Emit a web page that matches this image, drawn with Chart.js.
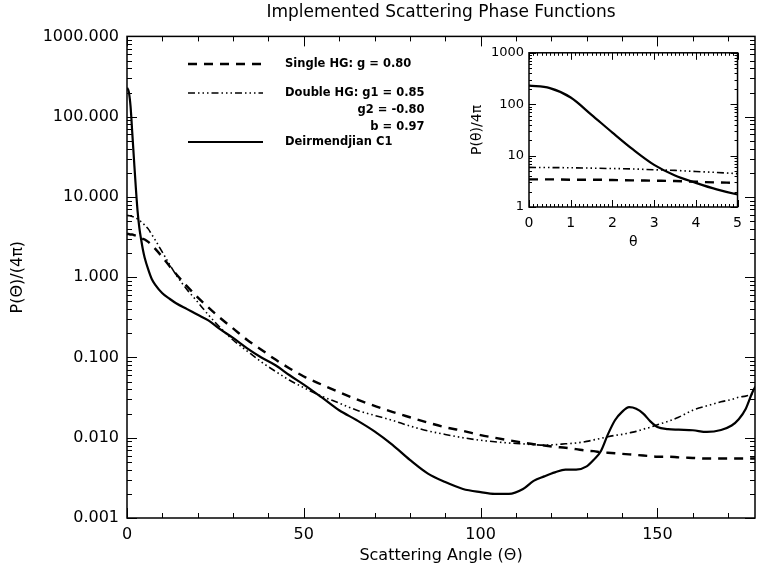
<!DOCTYPE html>
<html>
<head>
<meta charset="utf-8">
<script src="https://cdn.jsdelivr.net/npm/chart.js@4"></script>
<style>
  html, body { margin: 0; padding: 0; background: #fff; }
  #wrap { position: relative; width: 759px; height: 576px; }
  #main { position: absolute; left: 0; top: 0; }
  #inset { position: absolute; left: 460px; top: 40px; }
</style>
</head>
<body>
<div id="wrap">
  <canvas id="main" width="759" height="576"></canvas>
  <canvas id="inset" width="290" height="225"></canvas>
</div>
<script>
// scattering angle (deg) and P/(4pi)
const angles = [0, 0.5, 1, 1.5, 2, 2.5, 3, 3.5, 4, 4.5, 5, 6, 7, 8, 10, 12, 14, 17, 20, 23, 26, 30, 34, 38, 42, 46, 50,
  55, 60, 65, 70, 75, 80, 85, 90, 95, 100, 104, 108, 112, 115, 118, 121, 124, 127, 130, 132, 134, 136, 138, 140,
  142, 144, 146, 148, 150, 153, 156, 160, 164, 168, 171, 173, 175, 177, 178];

const singleHG = [3.45, 3.45, 3.4, 3.4, 3.35, 3.3, 3.25, 3.2, 3.1, 3.0, 2.95, 2.75, 2.5, 2.25, 1.78, 1.38, 1.08, 0.77,
  0.56, 0.42, 0.32, 0.23, 0.165, 0.125, 0.094, 0.073, 0.058, 0.046, 0.037, 0.030, 0.025, 0.021, 0.018, 0.0155, 0.0135,
  0.0122, 0.0108, 0.0100, 0.0093, 0.0087, 0.0083, 0.0080, 0.0077, 0.0075, 0.0072, 0.0069, 0.0068, 0.0066, 0.0065,
  0.0064, 0.0063, 0.0062, 0.0061, 0.0060, 0.0059, 0.0058, 0.0058, 0.0057, 0.0056, 0.0055, 0.0055, 0.0055, 0.0055,
  0.0055, 0.0055, 0.0055];

const doubleHG = [5.9, 5.85, 5.8, 5.7, 5.6, 5.5, 5.3, 5.15, 4.9, 4.7, 4.45, 4.0, 3.4, 2.9, 2.05, 1.45, 1.05, 0.70,
  0.49, 0.34, 0.245, 0.165, 0.12, 0.088, 0.067, 0.052, 0.042, 0.033, 0.027, 0.022, 0.019, 0.0165, 0.014, 0.0122, 0.011,
  0.0100, 0.0093, 0.0089, 0.0086, 0.0084, 0.0082, 0.0081, 0.0082, 0.0084, 0.0086, 0.0090, 0.0094, 0.0098, 0.0103,
  0.0107, 0.011, 0.0115, 0.012, 0.0128, 0.0135, 0.0145, 0.016, 0.018, 0.022, 0.025, 0.028, 0.030, 0.032, 0.033,
  0.035, 0.036];

const deirC1 = [230, 205, 135, 62, 28, 13, 6.6, 4.1, 2.95, 2.2, 1.75, 1.25, 0.95, 0.8, 0.63, 0.54, 0.47, 0.40, 0.34,
  0.29, 0.23, 0.175, 0.13, 0.10, 0.08, 0.06, 0.046, 0.032, 0.022, 0.0165, 0.012, 0.0082, 0.0053, 0.0036, 0.0028,
  0.0023, 0.0021, 0.0020, 0.0020, 0.0023, 0.0029, 0.0033, 0.0037, 0.0040, 0.0040, 0.0044, 0.0053, 0.0068, 0.0110,
  0.0165, 0.021, 0.024, 0.023, 0.020, 0.016, 0.0136, 0.0128, 0.0126, 0.0124, 0.0118, 0.0125, 0.0142, 0.017, 0.023,
  0.038, 0.045];

const mainXTicks = [0, 50, 100, 150];
const mainYTicks = [0.001, 0.01, 0.1, 1, 10, 100, 1000];
const insetXTicks = [0, 1, 2, 3, 4, 5];
const insetYTicks = [1, 10, 100, 1000];

const titleText = "Implemented Scattering Phase Functions";
const xTitle = "Scattering Angle (Θ)";
const yTitle = "P(Θ)/(4π)";
const insetXTitle = "θ";
const insetYTitle = "P(θ)/4π";
const legendText = [
  ["Single HG: g = 0.80"],
  ["Double HG: g1 = 0.85", "g2 = -0.80", "b = 0.97"],
  ["Deirmendjian C1"]
];

const dashSingle = [9, 7];
const dashDouble = [7, 3, 1.5, 3, 1.5, 3, 1.5, 3];

Chart.defaults.font.family = '"DejaVu Sans", sans-serif';
Chart.defaults.color = '#000';

function pairs(xs, ys) {
  return xs.map((x, i) => ({ x: x, y: ys[i] }));
}

function makeDatasets() {
  return [
    { label: legendText[0][0], data: pairs(angles, singleHG), borderColor: '#000', borderWidth: 2.4, borderDash: dashSingle },
    { label: legendText[1][0], data: pairs(angles, doubleHG), borderColor: '#000', borderWidth: 1.6, borderDash: dashDouble },
    { label: legendText[2][0], data: pairs(angles, deirC1), borderColor: '#000', borderWidth: 2.2 }
  ];
}

// IDL style frame with inward ticks
const frameTicks = {
  id: 'frameTicks',
  afterDatasetsDraw(chart, args, o) {
    const { ctx, chartArea: a } = chart;
    const x = chart.scales.x, y = chart.scales.y;
    ctx.save();
    ctx.strokeStyle = '#000';
    ctx.lineWidth = o.frame;
    ctx.strokeRect(a.left, a.top, a.right - a.left, a.bottom - a.top);
    ctx.lineWidth = 1;
    ctx.beginPath();
    const n = Math.floor((x.max - x.min) / o.xMinor + 1e-6);
    for (let i = 0; i <= n; i++) {
      const v = x.min + i * o.xMinor;
      const px = Math.round(x.getPixelForValue(v)) + 0.5;
      const r = v / o.xMajor;
      const len = Math.abs(r - Math.round(r)) < 1e-6 ? o.major : o.minor;
      ctx.moveTo(px, a.bottom); ctx.lineTo(px, a.bottom - len);
      ctx.moveTo(px, a.top); ctx.lineTo(px, a.top + len);
    }
    const d0 = Math.round(Math.log10(y.min)), d1 = Math.round(Math.log10(y.max));
    for (let d = d0; d <= d1; d++) {
      for (let m = 1; m < 10; m++) {
        if (d === d1 && m > 1) break;
        const py = Math.round(y.getPixelForValue(m * Math.pow(10, d))) + 0.5;
        const len = m === 1 ? o.major : o.minor;
        ctx.moveTo(a.left, py); ctx.lineTo(a.left + len, py);
        ctx.moveTo(a.right, py); ctx.lineTo(a.right - len, py);
      }
    }
    ctx.stroke();
    ctx.restore();
  }
};

const legendBox = {
  id: 'legendBox',
  afterDraw(chart) {
    const ctx = chart.ctx;
    const rowsY = [64, 93, 142];
    const styles = [
      { dash: dashSingle, w: 2.4 },
      { dash: dashDouble, w: 1.6 },
      { dash: [], w: 2.2 }
    ];
    ctx.save();
    ctx.font = 'bold 11.5px "DejaVu Sans"';
    ctx.fillStyle = '#000';
    ctx.textBaseline = 'middle';
    legendText.forEach((lines, i) => {
      const yy = rowsY[i];
      ctx.strokeStyle = '#000';
      ctx.lineWidth = styles[i].w;
      ctx.setLineDash(styles[i].dash);
      ctx.beginPath();
      ctx.moveTo(188, yy); ctx.lineTo(263, yy);
      ctx.stroke();
      ctx.setLineDash([]);
      ctx.textAlign = 'left';
      ctx.fillText(lines[0], 285, yy);
      const right = 285 + ctx.measureText(lines[0]).width;
      ctx.textAlign = 'right';
      for (let k = 1; k < lines.length; k++) {
        ctx.fillText(lines[k], right, yy + 17 * k);
      }
    });
    ctx.restore();
  }
};

new Chart(document.getElementById('main'), {
  type: 'line',
  data: { datasets: makeDatasets() },
  options: {
    responsive: false,
    animation: false,
    elements: { point: { radius: 0 }, line: { cubicInterpolationMode: 'monotone' } },
    layout: { padding: { right: 4 } },
    plugins: {
      legend: { display: false },
      tooltip: { enabled: false },
      title: {
        display: true, text: titleText, fullSize: false,
        font: { size: 17, weight: 'normal' }, padding: { top: 2, bottom: 14 }
      },
      frameTicks: { frame: 1.5, xMinor: 10, xMajor: 50, major: 10, minor: 5 }
    },
    scales: {
      x: {
        type: 'linear', min: 0, max: 177.6,
        grid: { display: false, drawTicks: false }, border: { display: false },
        afterBuildTicks: s => { s.ticks = mainXTicks.map(v => ({ value: v })); },
        afterFit: s => { s.height = 58; },
        ticks: { font: { size: 16 }, padding: 7, maxRotation: 0, autoSkip: false },
        title: { display: true, text: xTitle, font: { size: 16 }, padding: { top: 0, bottom: 11 } }
      },
      y: {
        type: 'logarithmic', min: 0.001, max: 1000,
        grid: { display: false, drawTicks: false }, border: { display: false },
        afterBuildTicks: s => { s.ticks = mainYTicks.map(v => ({ value: v })); },
        afterFit: s => { s.width = 127; },
        ticks: { font: { size: 16 }, padding: 8, autoSkip: false, callback: v => Number(v).toFixed(3) },
        title: { display: true, text: yTitle, font: { size: 16 }, padding: { top: 8, bottom: 0 } }
      }
    }
  },
  plugins: [frameTicks, legendBox]
});

new Chart(document.getElementById('inset'), {
  type: 'line',
  data: { datasets: makeDatasets() },
  options: {
    responsive: false,
    animation: false,
    elements: { point: { radius: 0 }, line: { cubicInterpolationMode: 'monotone' } },
    layout: { padding: { top: 8, right: 8 } },
    plugins: {
      legend: { display: false },
      tooltip: { enabled: false },
      frameTicks: { frame: 1.5, xMinor: 0.1, xMajor: 1, major: 7, minor: 3 }
    },
    scales: {
      x: {
        type: 'linear', min: 0, max: 5,
        grid: { display: false, drawTicks: false }, border: { display: false },
        afterBuildTicks: s => { s.ticks = insetXTicks.map(v => ({ value: v })); },
        afterFit: s => { s.height = 58; },
        ticks: { font: { size: 14 }, padding: 8, maxRotation: 0, autoSkip: false },
        title: { display: true, text: insetXTitle, font: { size: 14 }, padding: { top: 0, bottom: 14 } }
      },
      y: {
        type: 'logarithmic', min: 1, max: 1000,
        grid: { display: false, drawTicks: false }, border: { display: false },
        afterBuildTicks: s => { s.ticks = insetYTicks.map(v => ({ value: v })); },
        afterFit: s => { s.width = 69; },
        ticks: { font: { size: 13 }, padding: 5, autoSkip: false, callback: v => String(v) },
        title: { display: true, text: insetYTitle, font: { size: 14 }, padding: { top: 9, bottom: 0 } }
      }
    }
  },
  plugins: [frameTicks]
});
</script>
</body>
</html>
